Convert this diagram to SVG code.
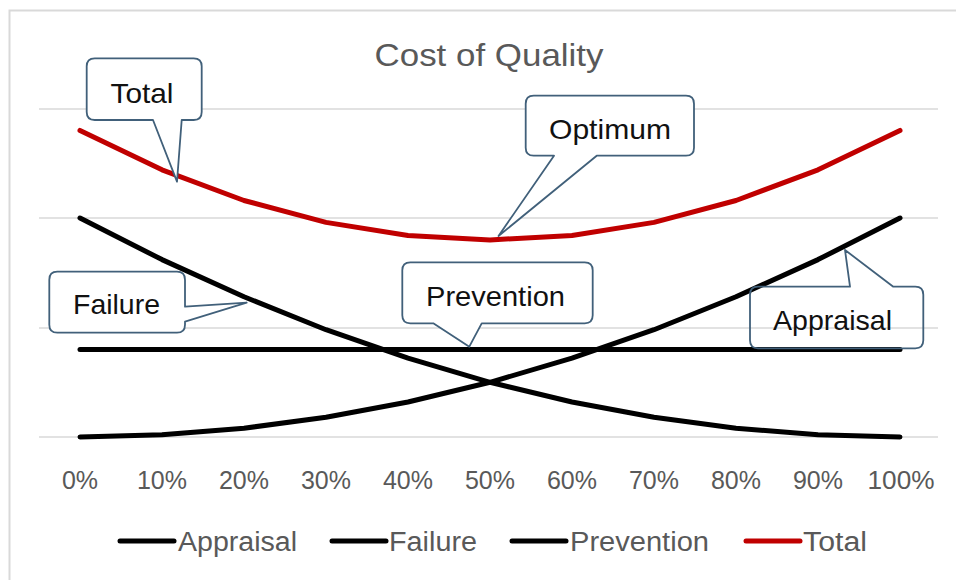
<svg xmlns="http://www.w3.org/2000/svg" width="956" height="580" viewBox="0 0 956 580">
<style>
.grid{stroke:#d9d9d9;stroke-width:1.5;fill:none}
.series{fill:none;stroke:#000;stroke-width:5;stroke-linecap:round;stroke-linejoin:round}
.total{stroke:#c00000}
.callout{fill:#fff;stroke:#41607a;stroke-width:1.8;stroke-linejoin:round}
.ctext{font-family:"Liberation Sans",Arial,sans-serif;font-size:28px;fill:#111;text-anchor:middle}
.axis{font-family:"Liberation Sans",Arial,sans-serif;font-size:25px;fill:#595959;text-anchor:middle}
.leg{font-family:"Liberation Sans",Arial,sans-serif;font-size:27px;fill:#595959}
.title{font-family:"Liberation Sans",Arial,sans-serif;font-size:32px;fill:#595959;text-anchor:middle}
</style>
<rect x="0" y="0" width="956" height="580" fill="#fff"/>
<rect x="9.5" y="10.5" width="960" height="600" fill="none" stroke="#d9d9d9" stroke-width="2"/>
<text class="title" x="489" y="66" textLength="229" lengthAdjust="spacingAndGlyphs">Cost of Quality</text>
<g id="gridlines">
<line class="grid" x1="39" y1="109" x2="938" y2="109"/>
<line class="grid" x1="39" y1="218" x2="938" y2="218"/>
<line class="grid" x1="39" y1="328" x2="938" y2="328"/>
<line class="grid" x1="39" y1="437" x2="938" y2="437"/>
</g>
<g id="axis-labels">
<text class="axis" x="80" y="489">0%</text>
<text class="axis" x="162" y="489">10%</text>
<text class="axis" x="244" y="489">20%</text>
<text class="axis" x="326" y="489">30%</text>
<text class="axis" x="408" y="489">40%</text>
<text class="axis" x="490" y="489">50%</text>
<text class="axis" x="572" y="489">60%</text>
<text class="axis" x="654" y="489">70%</text>
<text class="axis" x="736" y="489">80%</text>
<text class="axis" x="818" y="489">90%</text>
<text class="axis" x="901" y="489" textLength="67" lengthAdjust="spacingAndGlyphs">100%</text>
</g>
<g id="connectors">
<polyline id="failure-line" class="series" points="80,218 162,259.6 244,296.8 326,329.7 408,358.2 490,382.3 572,402 654,417.3 736,428.2 818,434.8 900,437"/>
<polyline id="appraisal-line" class="series" points="80,437 162,434.8 244,428.2 326,417.3 408,402 490,382.3 572,358.2 654,329.7 736,296.8 818,259.6 900,218"/>
<polyline id="prevention-line" class="series" points="80,349.4 900,349.4"/>
<polyline id="total-line" class="series total" points="80,130.4 162,169.8 244,200.5 326,222.4 408,235.5 490,239.9 572,235.5 654,222.4 736,200.5 818,169.8 900,130.4"/>
</g>
<g id="callout-total">
<path class="callout" d="M94.7,58.3 H193.7 Q201.7,58.3 201.7,66.3 V112 Q201.7,120 193.7,120 H181.7 L177,181.7 L153,120 H94.7 Q86.7,120 86.7,112 V66.3 Q86.7,58.3 94.7,58.3 Z"/>
<text class="ctext" x="142" y="103" textLength="63" lengthAdjust="spacingAndGlyphs">Total</text>
</g>
<g id="callout-optimum">
<path class="callout" d="M533.7,95.7 H686 Q694,95.7 694,103.7 V147.7 Q694,155.7 686,155.7 H596.7 L498.5,236 L554,155.7 H533.7 Q525.7,155.7 525.7,147.7 V103.7 Q525.7,95.7 533.7,95.7 Z"/>
<text class="ctext" x="610" y="139" textLength="122" lengthAdjust="spacingAndGlyphs">Optimum</text>
</g>
<g id="callout-failure">
<path class="callout" d="M57.3,271.7 H177 Q185,271.7 185,279.7 V306.7 L246.7,302.7 L185,321.7 V324.7 Q185,332.7 177,332.7 H57.3 Q49.3,332.7 49.3,324.7 V279.7 Q49.3,271.7 57.3,271.7 Z"/>
<text class="ctext" x="116.5" y="314" textLength="87" lengthAdjust="spacingAndGlyphs">Failure</text>
</g>
<g id="callout-prevention">
<path class="callout" d="M410.3,262.3 H584.7 Q592.7,262.3 592.7,270.3 V315.3 Q592.7,323.3 584.7,323.3 H481.7 L469.3,346.7 L433.3,323.3 H410.3 Q402.3,323.3 402.3,315.3 V270.3 Q402.3,262.3 410.3,262.3 Z"/>
<text class="ctext" x="495.5" y="306" textLength="139" lengthAdjust="spacingAndGlyphs">Prevention</text>
</g>
<g id="callout-appraisal">
<path class="callout" style="fill:none" d="M758,286.7 H850 L845,250 L893.3,286.7 H915.3 Q923.3,286.7 923.3,294.7 V340.3 Q923.3,348.3 915.3,348.3 H758 Q750,348.3 750,340.3 V294.7 Q750,286.7 758,286.7 Z"/>
<text class="ctext" x="832.5" y="330" textLength="119" lengthAdjust="spacingAndGlyphs">Appraisal</text>
</g>
<g id="legend">
<line class="series" x1="120" y1="541" x2="174" y2="541"/>
<text class="leg" x="178" y="551" textLength="119" lengthAdjust="spacingAndGlyphs">Appraisal</text>
<line class="series" x1="332" y1="541" x2="386" y2="541"/>
<text class="leg" x="389" y="551" textLength="88" lengthAdjust="spacingAndGlyphs">Failure</text>
<line class="series" x1="512" y1="541" x2="566" y2="541"/>
<text class="leg" x="570" y="551" textLength="139" lengthAdjust="spacingAndGlyphs">Prevention</text>
<line class="series total" x1="746" y1="541" x2="800" y2="541"/>
<text class="leg" x="803" y="551" textLength="64" lengthAdjust="spacingAndGlyphs">Total</text>
</g>
</svg>
